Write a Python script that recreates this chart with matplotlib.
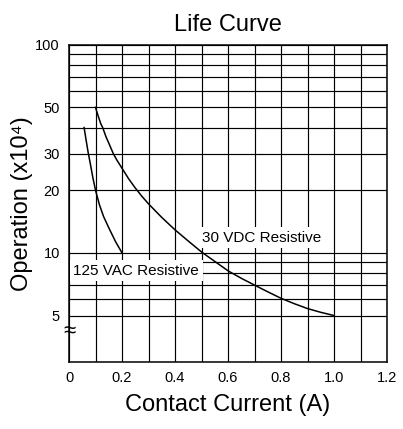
import matplotlib
matplotlib.use("Agg")
import matplotlib.pyplot as plt
from matplotlib.ticker import FixedLocator, FixedFormatter, NullFormatter
import matplotlib.transforms as mtransforms

plt.rcParams["font.family"] = ["Liberation Sans", "DejaVu Sans"]

# Values (operations in units of 10^4)
vdc_current = [0.10, 0.11, 0.12, 0.127, 0.14, 0.15, 0.167, 0.18, 0.20, 0.225,
               0.25, 0.275, 0.30, 0.35, 0.40, 0.45, 0.50, 0.55, 0.60, 0.65,
               0.70, 0.75, 0.80, 0.85, 0.90, 0.95, 1.0]
vdc_ops = [50, 45.5, 41.7, 40, 36, 33.7, 30, 28, 25.5, 22.7,
           20.5, 18.7, 17.2, 14.8, 12.9, 11.4, 10.1, 9.1, 8.2, 7.55,
           7.0, 6.5, 6.05, 5.7, 5.4, 5.18, 5.0]

vac_current = [0.057, 0.065, 0.073, 0.079, 0.09, 0.10, 0.115, 0.13, 0.15, 0.176, 0.20]
vac_ops = [40, 34.5, 30, 27.4, 23, 20, 17, 15.0, 13.2, 11.3, 10]

x_ticks = [0, 0.2, 0.4, 0.6, 0.8, 1.0, 1.2]
x_tick_labels = ["0", "0.2", "0.4", "0.6", "0.8", "1.0", "1.2"]
x_grid = [0.1 * i for i in range(13)]

y_ticks = [5, 10, 20, 30, 50, 100]
y_tick_labels = ["5", "10", "20", "30", "50", "100"]
y_grid = [5, 6, 7, 8, 9, 10, 20, 30, 40, 50, 60, 70, 80, 90, 100]

W, H = 403, 429
fig = plt.figure(figsize=(W / 100, H / 100), dpi=100)
ax = fig.add_axes([69 / W, 1 - 361.7 / H, (387 - 69) / W, (361.7 - 44.7) / H])

ax.set_yscale("log")
ax.set_xlim(0, 1.2)
ax.set_ylim(3, 100)

# grid lines
for gx in x_grid:
    ax.axvline(gx, color="black", lw=0.85, zorder=1)
for gy in y_grid:
    ax.axhline(gy, color="black", lw=0.85, zorder=1)

ax.plot(vdc_current, vdc_ops, color="black", lw=1.1, zorder=4)
ax.plot(vac_current, vac_ops, color="black", lw=1.1, zorder=4)

box = dict(facecolor="white", edgecolor="none", pad=2.5)
ax.text(0.5, 11.8, "30 VDC Resistive", fontsize=11, ha="left", va="center",
        bbox=box, zorder=3)
ax.text(0.016, 8.2, "125 VAC Resistive", fontsize=11, ha="left", va="center",
        bbox=box, zorder=3)

ax.yaxis.set_major_locator(FixedLocator(y_ticks))
ax.yaxis.set_major_formatter(FixedFormatter(y_tick_labels))
ax.yaxis.set_minor_formatter(NullFormatter())
ax.yaxis.set_minor_locator(FixedLocator([]))
ax.set_xticks(x_ticks)
ax.set_xticklabels(x_tick_labels)
ax.tick_params(axis="both", which="both", length=0, labelsize=10.5, pad=6.5)

for sp in ax.spines.values():
    sp.set_linewidth(1.1)
    sp.set_zorder(5)

# axis break mark on the left spine
trans = mtransforms.blended_transform_factory(ax.transAxes, ax.transData)
ax.text(0, 4.15, "≈", transform=trans, ha="center", va="center",
        fontsize=16, zorder=6, clip_on=False)

ax.set_title("Life Curve", fontsize=17, pad=10)
ax.set_xlabel("Contact Current (A)", fontsize=17, labelpad=7)
ax.set_ylabel("Operation (x10⁴)", fontsize=17, labelpad=2)

fig.savefig("out.png", dpi=100)
